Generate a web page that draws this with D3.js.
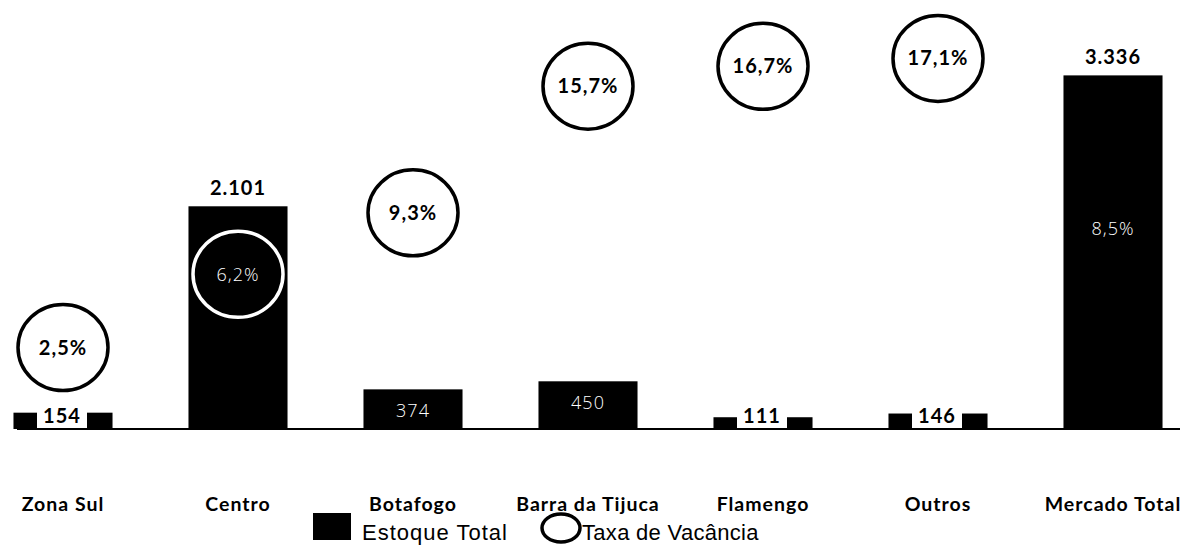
<!DOCTYPE html>
<html>
<head>
<meta charset="utf-8">
<script src="https://cdn.jsdelivr.net/npm/d3@7"></script>
<style>
body{margin:0;background:#fff;}
svg{display:block;}
.cat{font-family:Lato,"Open Sans",sans-serif;font-weight:bold;font-size:19.5px;letter-spacing:1px;fill:#000;}
.lbl{font-family:Lato,"Open Sans",sans-serif;font-weight:bold;font-size:20px;letter-spacing:1px;fill:#000;}
.thin{font-family:"Open Sans",Lato,sans-serif;font-weight:300;font-size:18px;letter-spacing:1px;fill:#fff;}
.legend text{font-family:"Liberation Sans",Arial,sans-serif;font-size:22px;fill:#000;}
</style>
</head>
<body>
<svg id="chart"></svg>
<script>
var categories = ["Zona Sul","Centro","Botafogo","Barra da Tijuca","Flamengo","Outros","Mercado Total"];
var estoque = [154,2101,374,450,111,146,3336];
var vacancia = [2.5,6.2,9.3,15.7,16.7,17.1,8.5];

var screen = {width:1189,height:546}
var baseY = 429

var svg = d3.select("#chart")
    .attr("width",screen.width)
    .attr("height",screen.height)

var pt = d3.formatLocale({decimal:",",thousands:".",grouping:[3],currency:["R$",""]})
var fmtInt = pt.format(",d")
var fmtPct = function(v){return pt.format(".1f")(v)+"%";}

var rows = categories.map(function(c,i){
    return {cat:c,estoque:estoque[i],vac:vacancia[i]};
})

var xScale = d3.scaleBand()
    .domain(categories)
    .range([-24.5,1200.5])
    .paddingInner(0.434)
    .paddingOuter(0.217)

var yScale = d3.scaleLinear()
    .domain([0,4000])
    .range([baseY,baseY-424])

var y2Scale = d3.scaleLinear()
    .domain([0,20])
    .range([397,1])

var cx = function(d){return xScale(d.cat)+xScale.bandwidth()/2;}

// bars
svg.append("g")
    .selectAll("rect")
    .data(rows)
    .enter()
    .append("rect")
    .attr("x",function(d){return xScale(d.cat);})
    .attr("width",xScale.bandwidth())
    .attr("y",function(d){return yScale(d.estoque);})
    .attr("height",function(d){return baseY-yScale(d.estoque);})
    .attr("fill","#000")

// baseline
svg.append("line")
    .attr("x1",17).attr("x2",1180)
    .attr("y1",baseY).attr("y2",baseY)
    .attr("stroke","#000")
    .attr("stroke-width",2)

// value labels
var small = rows.filter(function(d){return d.estoque<200;})
var mid = rows.filter(function(d){return d.estoque>=200&&d.estoque<1000;})
var big = rows.filter(function(d){return d.estoque>=1000;})

var sm = svg.append("g").selectAll("g")
    .data(small)
    .enter()
    .append("g")
sm.append("rect")
    .attr("x",function(d){return cx(d)-26;})
    .attr("width",50)
    .attr("y",function(d){return yScale(d.estoque)-2;})
    .attr("height",function(d){return baseY-yScale(d.estoque)+1;})
    .attr("fill","#fff")
sm.append("text")
    .attr("class","lbl")
    .attr("text-anchor","middle")
    .attr("x",function(d){return cx(d)-1;})
    .attr("y",function(d){return baseY-6;})
    .text(function(d){return fmtInt(d.estoque);})

svg.append("g").selectAll("text")
    .data(mid)
    .enter()
    .append("text")
    .attr("class","thin")
    .attr("text-anchor","middle")
    .attr("x",cx)
    .attr("y",function(d){return yScale(d.estoque)+28;})
    .text(function(d){return fmtInt(d.estoque);})

svg.append("g").selectAll("text")
    .data(big)
    .enter()
    .append("text")
    .attr("class","lbl")
    .attr("text-anchor","middle")
    .attr("x",cx)
    .attr("y",function(d){return yScale(d.estoque)-11;})
    .text(function(d){return fmtInt(d.estoque);})

// vacancy circles
var inBar = function(d){return y2Scale(d.vac)>yScale(d.estoque);}
var circ = svg.append("g").selectAll("g")
    .data(rows)
    .enter()
    .append("g")
    .attr("transform",function(d){return "translate("+cx(d)+","+y2Scale(d.vac)+")";})
circ.filter(function(d){return d.cat!="Mercado Total";})
    .append("ellipse")
    .attr("rx",45)
    .attr("ry",43)
    .attr("fill","none")
    .attr("stroke",function(d){return inBar(d)?"#fff":"#000";})
    .attr("stroke-width",3.5)
circ.append("text")
    .attr("class",function(d){return inBar(d)?"thin":"lbl";})
    .attr("text-anchor","middle")
    .attr("dy","0.35em")
    .text(function(d){return fmtPct(d.vac);})

// category labels
svg.append("g").selectAll("text")
    .data(rows)
    .enter()
    .append("text")
    .attr("class","cat")
    .attr("text-anchor","middle")
    .attr("x",cx)
    .attr("y",511)
    .text(function(d){return d.cat;})

// legend
var legend = svg.append("g").classed("legend",true)
legend.append("rect")
    .attr("x",313).attr("y",513)
    .attr("width",38).attr("height",27)
    .attr("fill","#000")
legend.append("text")
    .attr("x",362).attr("y",540)
    .style("letter-spacing","1px")
    .text("Estoque Total")
legend.append("ellipse")
    .attr("cx",561).attr("cy",528)
    .attr("rx",19).attr("ry",14)
    .attr("fill","none")
    .attr("stroke","#000")
    .attr("stroke-width",3.5)
legend.append("text")
    .attr("x",582).attr("y",540)
    .style("letter-spacing","0.3px")
    .text("Taxa de Vacância")
</script>
</body>
</html>
